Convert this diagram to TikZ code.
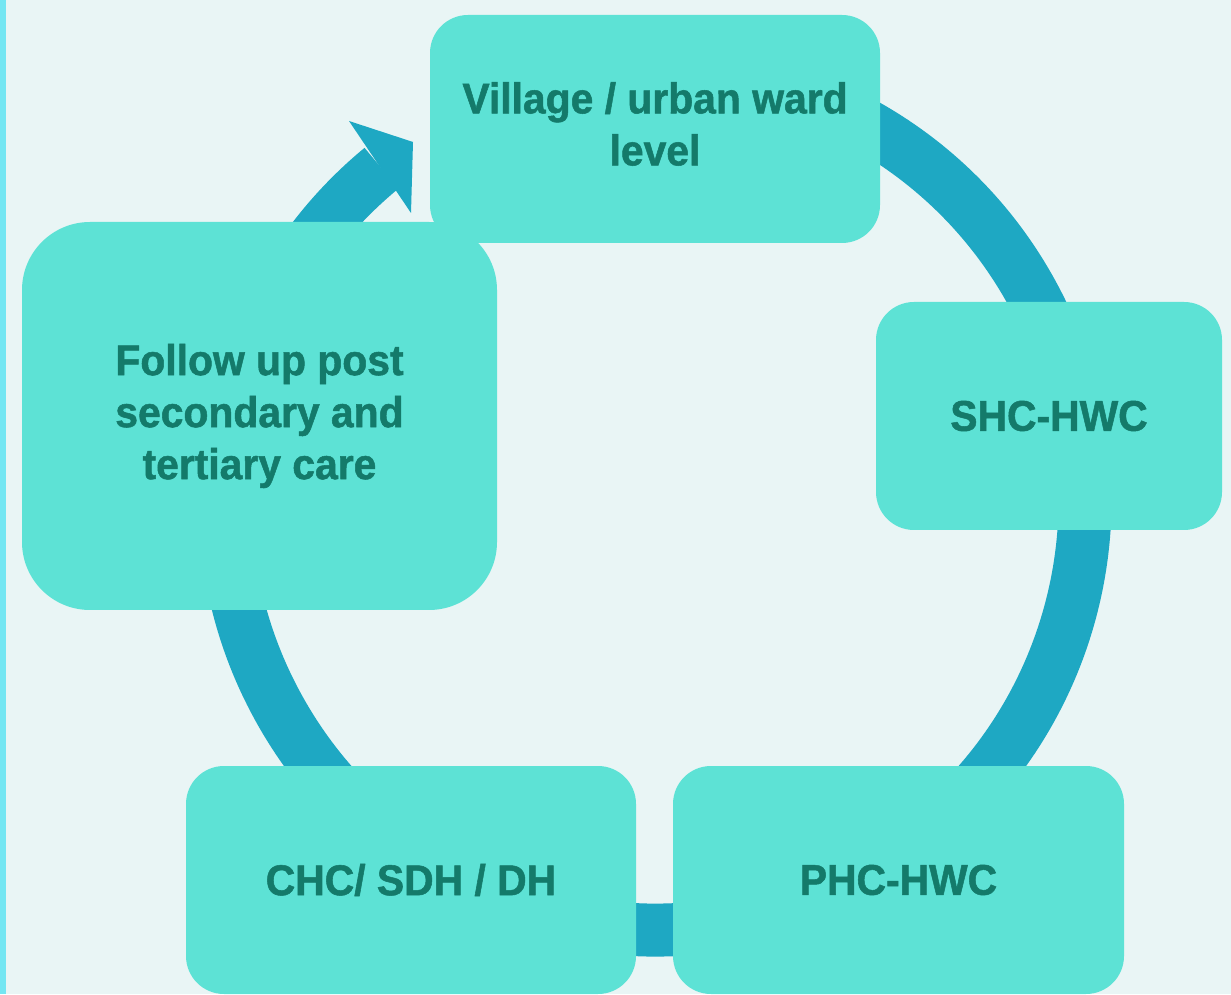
\documentclass[tikz,border=0pt]{standalone}
\usepackage{fontspec}
\setmainfont{Liberation Sans}[FakeStretch=0.95, BoldFeatures={FakeBold=1.2}]
\definecolor{bgc}{HTML}{E9F5F5}
\definecolor{stripec}{HTML}{74E6F2}
\definecolor{ringc}{HTML}{1EA8C3}
\definecolor{boxc}{HTML}{5DE2D5}
\definecolor{txtc}{HTML}{147A6A}
\tikzset{
  stagebox/.style={fill=boxc, draw=none, inner sep=0pt, align=center,
    text=txtc, font=\fontsize{43}{52}\selectfont\bfseries},
  ringline/.style={draw=ringc, line width=53pt}
}
\begin{document}
\begin{tikzpicture}[x=1pt,y=1pt]
\useasboundingbox (0,0) rectangle (1231,994);
\fill[bgc] (0,0) rectangle (1231,994);
\fill[stripec] (0,0) rectangle (6,994);
% cycle ring
\coordinate (ctr) at (655,494);
\draw[ringline] (ctr) ++(118:430pt) arc[start angle=118, end angle=-230.5, radius=430pt];
\coordinate (hA) at (349,873);
\coordinate (hT) at (413,852);
\coordinate (hB) at (411,781);
\fill[ringc] (hA) -- (hT) -- (hB) -- cycle;
% stage boxes
\node[stagebox, minimum width=450pt, minimum height=228pt, rounded corners=38pt] (village) at (655,865) {};
\node[txtc, font=\fontsize{43}{52}\selectfont\bfseries, align=center, inner sep=0pt] (villagetxt) at (655,870) {Village / urban ward\\level};
\node[stagebox, minimum width=346pt, minimum height=228pt, rounded corners=38pt] (shc) at (1049,578) {SHC-HWC};
\node[stagebox, minimum width=451pt, minimum height=228pt, rounded corners=38pt] (phc) at (898.5,114) {PHC-HWC};
\node[stagebox, minimum width=450pt, minimum height=228pt, rounded corners=38pt] (chc) at (411,114) {CHC/ SDH / DH};
\node[stagebox, minimum width=475pt, minimum height=388pt, rounded corners=68pt] (follow) at (259.5,578) {Follow up post\\secondary and\\tertiary care};
\end{tikzpicture}
\end{document}
